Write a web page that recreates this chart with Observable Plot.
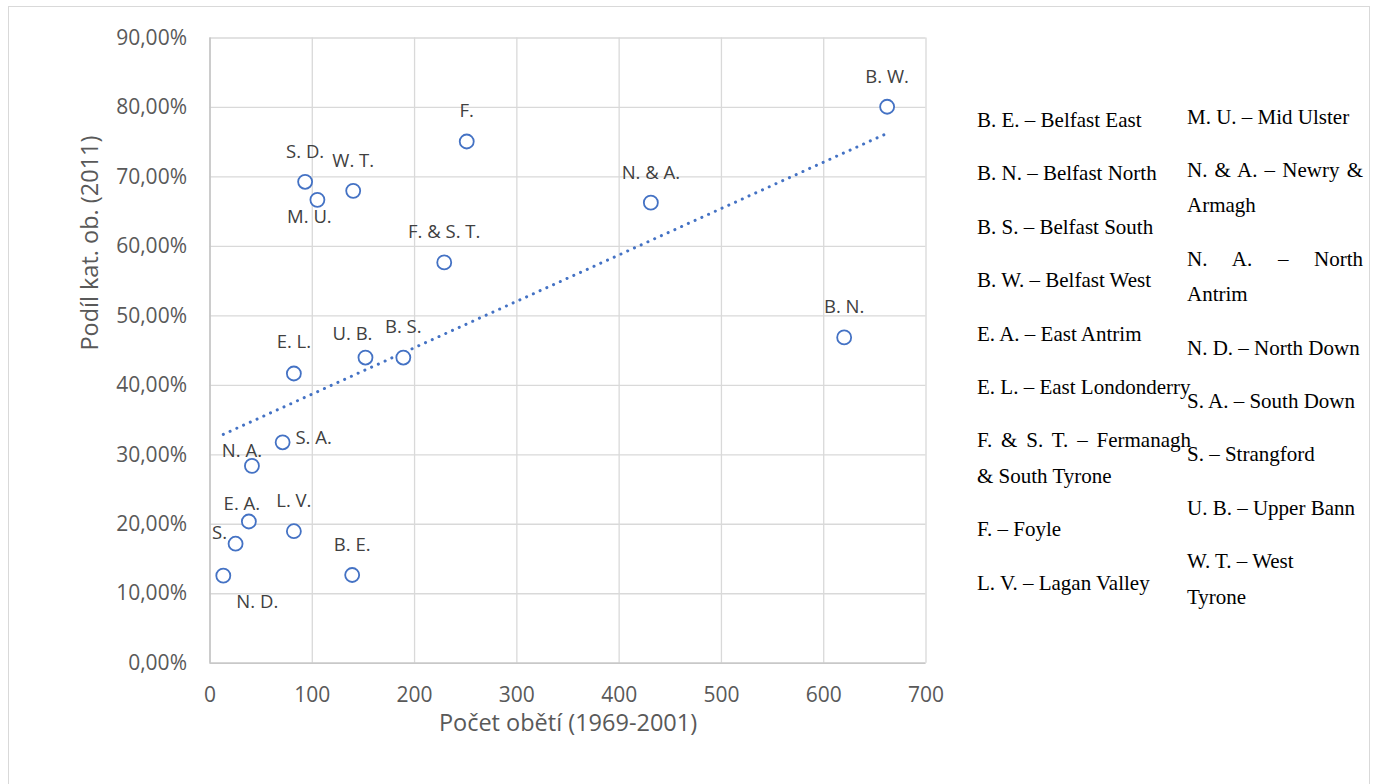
<!DOCTYPE html>
<html>
<head>
<meta charset="utf-8">
<script src="https://cdn.jsdelivr.net/npm/d3@7"></script>
<script src="https://cdn.jsdelivr.net/npm/@observablehq/plot@0.6"></script>
<style>
  html, body { margin: 0; padding: 0; background: #fff; }
  #frame { position: absolute; left: 8px; top: 6px; width: 1362px; height: 800px;
           border: 1.5px solid #d9d9d9; border-bottom: none; box-sizing: border-box; }
  #chart { position: absolute; left: 0; top: 0; }
  .col { position: absolute; font-family: "Liberation Serif", "Times New Roman", serif;
         font-size: 21px; line-height: 35.5px; color: #000; text-align: justify; }
  .col p { margin: 0 0 17.9px 0; }
  .col p.nj { text-align: left; width: 160px; }
</style>
</head>
<body>
<div id="frame"></div>
<div id="chart"></div>
<div id="legL" class="col" style="left:977px; top:103px; width:214px;"></div>
<div id="legR" class="col" style="left:1187px; top:99.5px; width:176px;"></div>
<script>
// ---- data ----
const labels = ["N. D.", "S.", "E. A.", "N. A.", "S. A.", "L. V.", "B. E.", "E. L.", "U. B.", "B. S.",
                "S. D.", "M. U.", "W. T.", "F. & S. T.", "F.", "N. & A.", "B. N.", "B. W."];
const victims = [13, 25, 38, 41, 71, 82, 139, 82, 152, 189, 93, 105, 140, 229, 251, 431, 620, 662];
const share = [0.126, 0.172, 0.204, 0.284, 0.318, 0.190, 0.127, 0.417, 0.440, 0.440,
               0.693, 0.667, 0.680, 0.577, 0.751, 0.663, 0.469, 0.801];
const xTicks = [0, 100, 200, 300, 400, 500, 600, 700];
const yTicks = [0, 0.1, 0.2, 0.3, 0.4, 0.5, 0.6, 0.7, 0.8, 0.9];
const xTitle = "Počet obětí (1969-2001)";
const yTitle = "Podíl kat. ob. (2011)";
const legendLeftAbbr = ["B. E.", "B. N.", "B. S.", "B. W.", "E. A.", "E. L.", "F. & S. T.", "F.", "L. V."];
const legendLeftName = ["Belfast East", "Belfast North", "Belfast South", "Belfast West", "East Antrim",
                        "East Londonderry", "Fermanagh & South Tyrone", "Foyle", "Lagan Valley"];
const legendRightAbbr = ["M. U.", "N. & A.", "N. A.", "N. D.", "S. A.", "S.", "U. B.", "W. T."];
const legendRightName = ["Mid Ulster", "Newry & Armagh", "North Antrim", "North Down", "South Down",
                         "Strangford", "Upper Bann", "West Tyrone"];

// ---- label placement (layout, not data) ----
const labelOffset = {
  "N. D.": [34, 26], "S.": [-16, -11], "E. A.": [-7, -17], "N. A.": [-10, -15],
  "S. A.": [31, -4], "L. V.": [0, -30], "B. E.": [0, -30], "E. L.": [0, -31],
  "U. B.": [-13, -23], "B. S.": [0, -30], "S. D.": [0, -30], "M. U.": [-8, 17],
  "W. T.": [0, -30], "F. & S. T.": [0, -30], "F.": [0, -30], "N. & A.": [0, -30],
  "B. N.": [0, -30], "B. W.": [0, -30]
};

const points = labels.map((l, i) => ({label: l, x: victims[i], y: share[i]}));
const blue = "#4472C4";
const fmtPct = d => (d * 100).toFixed(2).replace(".", ",") + "%";

const labelMarks = points.map(p => Plot.text([p], {
  x: "x", y: "y", text: "label",
  dx: labelOffset[p.label][0], dy: labelOffset[p.label][1],
  fill: "#404040", fontSize: 18.5
}));

const chart = Plot.plot({
  width: 960, height: 784,
  marginLeft: 209.5, marginRight: 34.5, marginTop: 37.5, marginBottom: 121.3,
  style: {fontFamily: "'Open Sans', sans-serif", background: "transparent", overflow: "visible"},
  x: {domain: [0, 700], ticks: xTicks, tickFormat: d => String(d), label: null},
  y: {domain: [0, 0.9], ticks: yTicks, tickFormat: fmtPct, label: null},
  marks: [
    Plot.gridX(xTicks, {stroke: "#d9d9d9", strokeOpacity: 1, strokeWidth: 1.3}),
    Plot.gridY(yTicks, {stroke: "#d9d9d9", strokeOpacity: 1, strokeWidth: 1.3}),
    Plot.ruleX([0], {stroke: "#bfbfbf", strokeWidth: 1.3}),
    Plot.ruleY([0], {stroke: "#bfbfbf", strokeWidth: 1.3}),
    Plot.axisX(xTicks, {tickSize: 0, tickPadding: 24, fontSize: 21, fill: "#595959", label: null, tickFormat: d => String(d)}),
    Plot.axisY(yTicks, {tickSize: 0, tickPadding: 23, fontSize: 21, fill: "#595959", label: null, tickFormat: fmtPct}),
    Plot.linearRegressionY(points, {x: "x", y: "y", ci: 0, stroke: blue, strokeWidth: 3,
      strokeDasharray: "0.1 7.3", strokeLinecap: "round"}),
    Plot.dot(points, {x: "x", y: "y", r: 7, stroke: blue, strokeWidth: 1.8, fill: "white"}),
    ...labelMarks,
    Plot.text([xTitle], {frameAnchor: "bottom", dy: 68, fontSize: 23.5, fill: "#595959"}),
    Plot.text([yTitle], {frameAnchor: "left", dx: -120, rotate: -90, fontSize: 23.5, fill: "#595959"})
  ]
});
document.getElementById("chart").appendChild(chart);

// ---- legend (text box) ----
function fillCol(id, abbr, names, noJustify) {
  const el = document.getElementById(id);
  abbr.forEach((a, i) => {
    const p = document.createElement("p");
    p.textContent = a + " – " + names[i];
    if (noJustify.includes(a)) p.className = "nj";
    el.appendChild(p);
  });
}
fillCol("legL", legendLeftAbbr, legendLeftName, []);
fillCol("legR", legendRightAbbr, legendRightName, ["W. T."]);
</script>
</body>
</html>
